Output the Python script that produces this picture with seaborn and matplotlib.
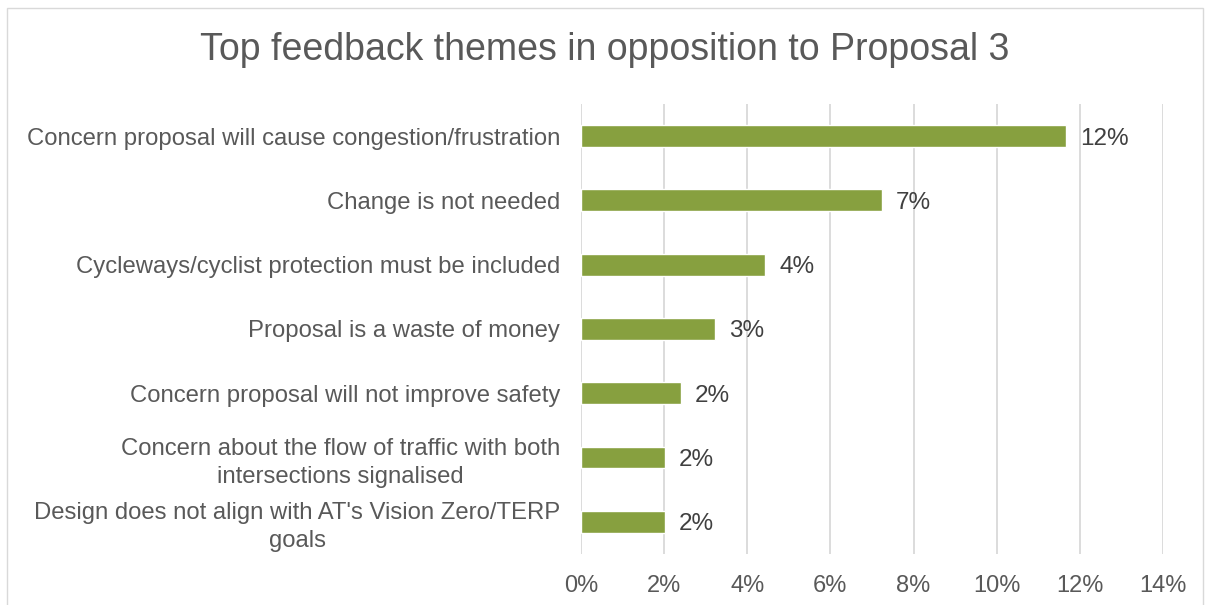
import matplotlib
matplotlib.use("Agg")
import matplotlib.pyplot as plt
from matplotlib.patches import Rectangle
from matplotlib.ticker import PercentFormatter
import seaborn as sns
import pandas as pd

themes = [
    "Concern proposal will cause congestion/frustration",
    "Change is not needed",
    "Cycleways/cyclist protection must be included",
    "Proposal is a waste of money",
    "Concern proposal will not improve safety",
    "Concern about the flow of traffic with both\nintersections signalised",
    "Design does not align with AT's Vision Zero/TERP\ngoals",
]
shares = [0.1167, 0.0724, 0.0443, 0.0322, 0.0241, 0.0202, 0.0202]
x_ticks = [0.0, 0.02, 0.04, 0.06, 0.08, 0.10, 0.12, 0.14]

title = "Top feedback themes in opposition to Proposal 3"

df = pd.DataFrame({"theme": themes, "share": shares})

sns.set_theme(style="white")
plt.rcParams["font.family"] = ["Liberation Sans", "DejaVu Sans"]

text_color = "#595959"
bar_color = "#87A03F"
grid_color = "#D9D9D9"

fig = plt.figure(figsize=(12.09, 6.05), dpi=100)
ax = fig.add_axes([0.4806, 0.0843, 0.4813, 0.7438])

sns.barplot(data=df, x="share", y="theme", orient="h", color=bar_color,
            width=0.34, saturation=1, ax=ax)

ax.set_xlim(0, 0.14)
ax.set_xticks(x_ticks)
ax.xaxis.set_major_formatter(PercentFormatter(xmax=1, decimals=0))
ax.grid(axis="x", color=grid_color, linewidth=1.3)
ax.set_axisbelow(True)
for s in ax.spines.values():
    s.set_visible(False)
ax.set_xlabel("")
ax.set_ylabel("")
ax.tick_params(axis="x", length=0, labelsize=17, labelcolor=text_color, pad=15)
ax.tick_params(axis="y", length=0, labelsize=17.2, labelcolor=text_color, pad=15)
for lab in ax.get_yticklabels():
    lab.set_multialignment("center")
    lab.set_linespacing(1.35)

for cont in ax.containers:
    texts = ax.bar_label(cont, labels=[f"{v:.0%}" for v in df["share"]],
                         padding=10, fontsize=17.5, color="#404040")
    for t in texts:
        t.set_va("center_baseline")

fig.text(0.5, 0.918, title, ha="center", va="center", fontsize=27,
         color=text_color)

fig.patches.append(Rectangle((7 / 1209, -0.01), 1196 / 1209, 0.998 - 7 / 605 + 0.01,
                             transform=fig.transFigure, fill=False,
                             edgecolor="#D9D9D9", linewidth=1))

fig.savefig("out.png", dpi=100, facecolor="white")
